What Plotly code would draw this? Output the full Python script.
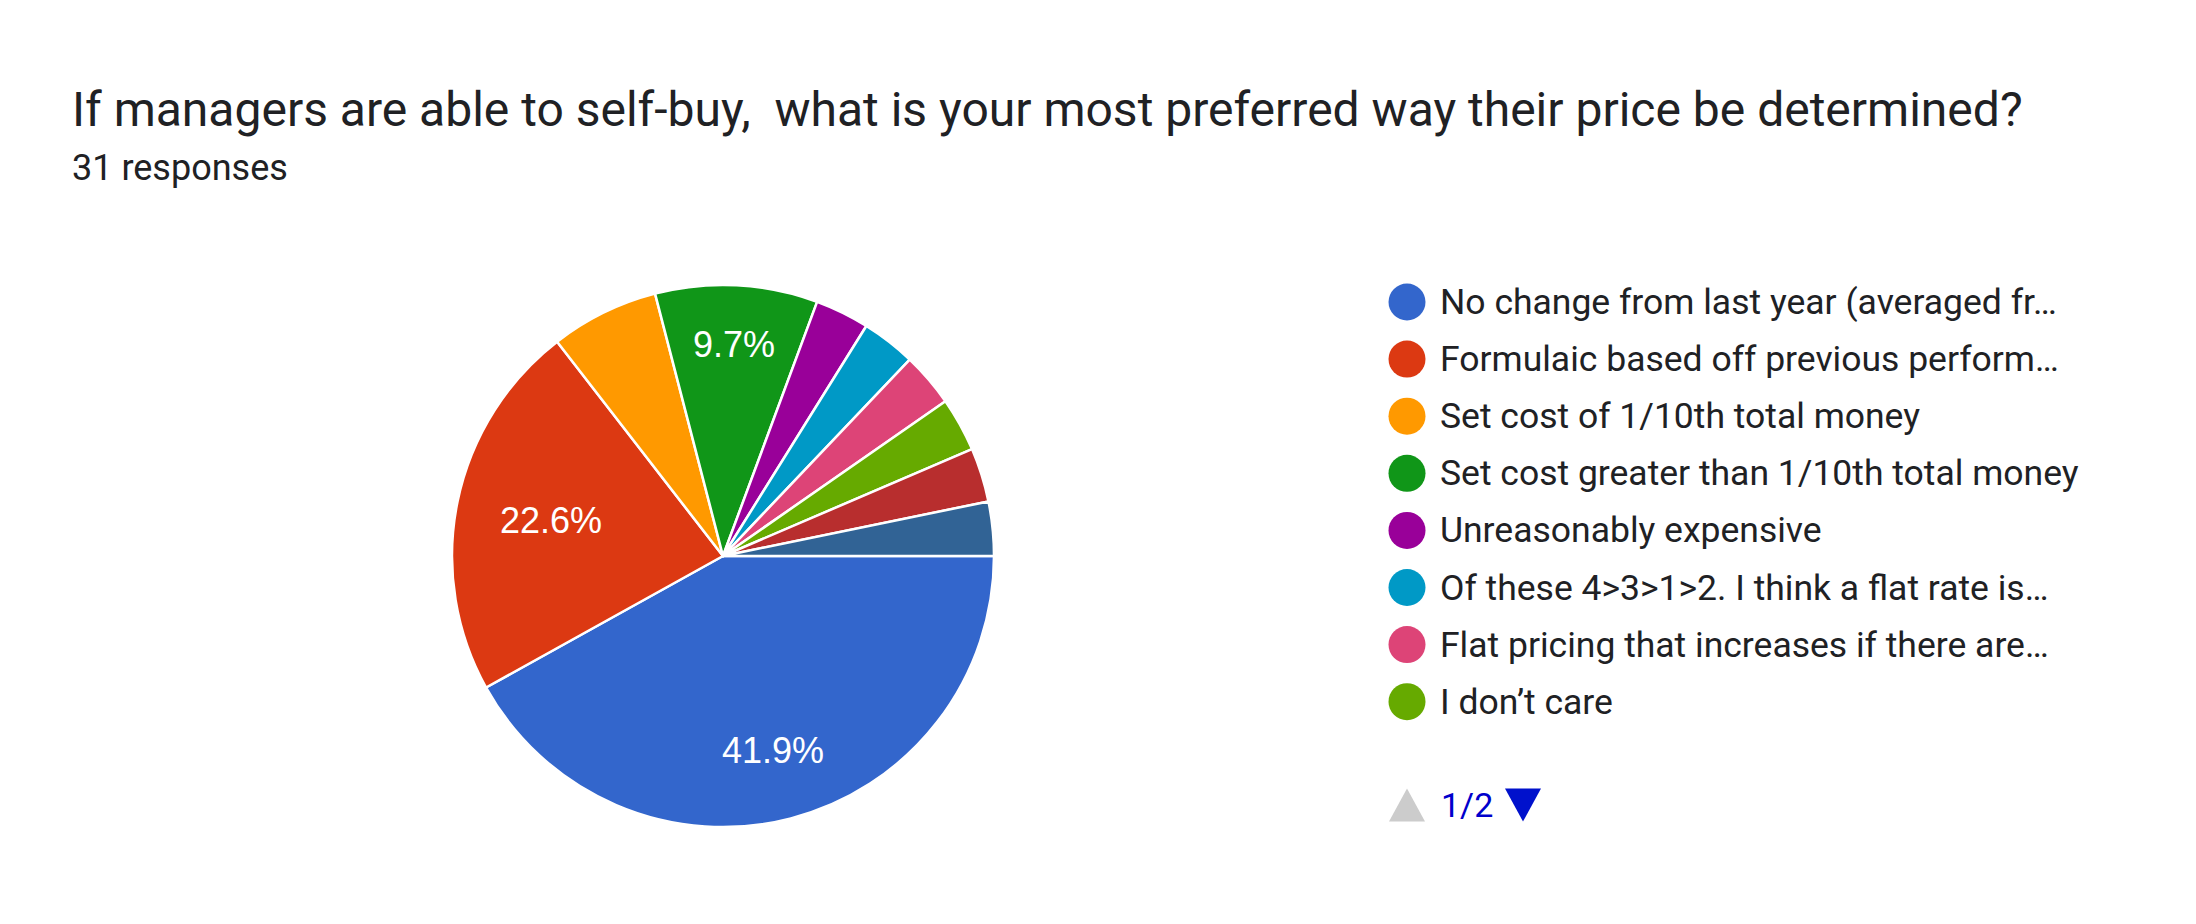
import math
import plotly.graph_objects as go

W, H = 2196, 924

title = "If managers are able to self-buy,  what is your most preferred way their price be determined?"
subtitle = "31 responses"

labels = [
    "No change from last year (averaged fr…",
    "Formulaic based off previous perform…",
    "Set cost of 1/10th total money",
    "Set cost greater than 1/10th total money",
    "Unreasonably expensive",
    "Of these 4>3>1>2. I think a flat rate is…",
    "Flat pricing that increases if there are…",
    "I don’t care",
    "Other response A",
    "Other response B",
]
counts = [13, 7, 2, 3, 1, 1, 1, 1, 1, 1]
colors = ["#3366cc", "#dc3912", "#ff9900", "#109618", "#990099",
          "#0099c6", "#dd4477", "#66aa00", "#b82e2e", "#316395"]
legend_page_size = 8
page_text = "1/2"

total = sum(counts)


def px(x):
    return x / W


def py(y):
    return 1 - y / H


cx, cy, r = 715, 548, 271

fig = go.Figure()
fig.add_trace(go.Pie(
    labels=labels,
    values=counts,
    textinfo="none",
    marker=dict(colors=colors, line=dict(color="white", width=2.5)),
    sort=False,
    direction="clockwise",
    rotation=90,
    showlegend=False,
    domain=dict(x=[px(cx - r), px(cx + r)], y=[py(cy + r), py(cy - r)]),
))

annotations = [
    dict(text=title, x=px(62), y=py(101), xref="paper", yref="paper",
         xanchor="left", yanchor="middle", showarrow=False,
         font=dict(family="Roboto", size=48, color="#202124")),
    dict(text=subtitle, x=px(62), y=py(160), xref="paper", yref="paper",
         xanchor="left", yanchor="middle", showarrow=False,
         font=dict(family="Roboto", size=36, color="#202124")),
]

# slice percentage labels (only for slices large enough), placed from the data
label_font = 36
outer = 0.84          # outer edge of the text box, as a fraction of the radius
char_w, box_h = 0.56, 0.78
cum = 0
for c in counts:
    frac = c / total
    mid = (cum + frac / 2) * 2 * math.pi  # clockwise from 3 o'clock
    cum += frac
    if frac < 0.08:
        continue
    txt = f"{frac * 100:.1f}%"
    half_w = len(txt) * char_w * label_font / 2
    half_h = box_h * label_font / 2
    d = outer * r - (abs(math.cos(mid)) * half_w + abs(math.sin(mid)) * half_h)
    tx = cx + d * math.cos(mid)
    ty = cy + d * math.sin(mid)
    annotations.append(dict(text=txt, x=px(tx), y=py(ty),
                            xref="paper", yref="paper", xanchor="center", yanchor="middle",
                            showarrow=False,
                            font=dict(family="Liberation Sans, Arial", size=label_font, color="white")))

shapes = []

lx, ltx, ly0, lstep, mr = 1399, 1430, 294, 57.1, 18.5
for i in range(legend_page_size):
    y = ly0 + i * lstep
    shapes.append(dict(type="circle", xref="paper", yref="paper",
                       x0=px(lx - mr), x1=px(lx + mr), y0=py(y + mr), y1=py(y - mr),
                       fillcolor=colors[i], line=dict(width=0)))
    annotations.append(dict(text=labels[i], x=px(ltx), y=py(y), xref="paper", yref="paper",
                            xanchor="left", yanchor="middle", showarrow=False,
                            font=dict(family="Roboto", size=35.5, color="#202124")))

# pagination
pgy = 797
tw, th = 18, 16.5
shapes.append(dict(type="path", xref="paper", yref="paper",
                   path=f"M {px(lx - tw)} {py(pgy + th)} L {px(lx + tw)} {py(pgy + th)} L {px(lx)} {py(pgy - th)} Z",
                   fillcolor="#cccccc", line=dict(width=0)))
dx = 1515
shapes.append(dict(type="path", xref="paper", yref="paper",
                   path=f"M {px(dx - tw)} {py(pgy - th)} L {px(dx + tw)} {py(pgy - th)} L {px(dx)} {py(pgy + th)} Z",
                   fillcolor="#0011cc", line=dict(width=0)))
annotations.append(dict(text=page_text, x=px(1431), y=py(pgy), xref="paper", yref="paper",
                        xanchor="left", yanchor="middle", showarrow=False,
                        font=dict(family="Roboto", size=34, color="#0000cc")))

fig.update_layout(
    width=W, height=H,
    margin=dict(l=0, r=0, t=0, b=0),
    paper_bgcolor="white", plot_bgcolor="white",
    annotations=annotations, shapes=shapes,
    showlegend=False,
)

fig.write_html("out.html")
